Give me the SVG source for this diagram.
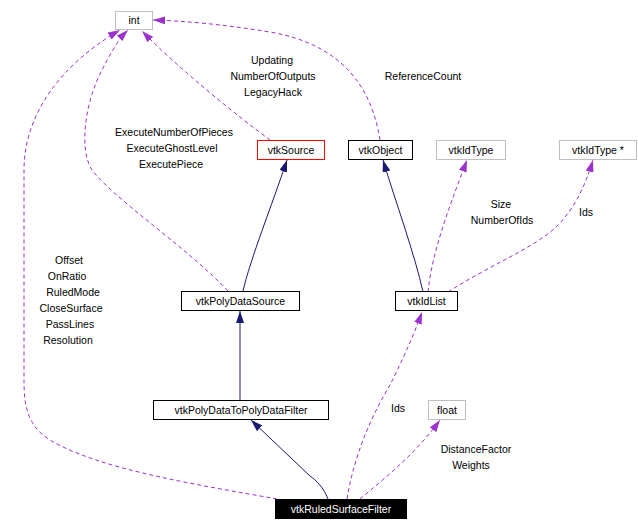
<svg xmlns="http://www.w3.org/2000/svg" width="638" height="530" viewBox="0 0 638 530">
<style>
  text { font-family: "Liberation Sans", Arial, sans-serif; font-size: 10.5px; fill: #000; text-anchor: middle; }
  .node rect { fill: #fff; stroke: #000; stroke-width: 1; }
  .gray rect { stroke: #bfbfbf; }
  .red rect { stroke: #ff0000; }
  .black rect { fill: #000; }
  .black text { fill: #fff; }
  .use { fill: none; stroke: #9a32cd; stroke-width: 1; stroke-dasharray: 4,3; marker-end: url(#ap); }
  .inh { fill: none; stroke: #191970; stroke-width: 1; marker-end: url(#an); }
</style>
<defs>
  <marker id="ap" viewBox="0 0 12 8" refX="12" refY="4" markerWidth="12" markerHeight="8" markerUnits="userSpaceOnUse" orient="auto">
    <path d="M0,0 L12,4 L0,8 z" fill="#9a32cd" stroke="none"/>
  </marker>
  <marker id="an" viewBox="0 0 12 8" refX="12" refY="4" markerWidth="12" markerHeight="8" markerUnits="userSpaceOnUse" orient="auto">
    <path d="M0,0 L12,4 L0,8 z" fill="#191970" stroke="none"/>
  </marker>
</defs>
<rect width="638" height="530" fill="#fff"/>
<g id="edges">
  <path class="use" d="M270,140 C240,118 180,70 142,31"/>
  <path class="use" d="M380,140 C372,90 345,45 270,32 C220,24 185,21 153,20"/>
  <path class="use" d="M228,291 C190,250 115,200 92,170 C78,148 86,100 102,70 C110,54 118,40 128,30"/>
  <path class="use" d="M277,499 C200,485 100,470 50,440 C25,425 24,400 24,380 L24,170 C24,115 60,65 120,30"/>
  <path class="use" d="M428,292 C432,250 452,200 467,160"/>
  <path class="use" d="M448,292 C490,265 530,250 555,228 C572,212 584,190 593,160"/>
  <path class="use" d="M347,499 C355,450 375,410 390,385 C400,365 412,340 422,312"/>
  <path class="use" d="M360,499 C380,482 415,455 440,420"/>
  <path class="inh" d="M423,292 C415,255 395,200 383,160"/>
  <path class="inh" d="M243,291 C250,260 272,205 287,160"/>
  <path class="inh" d="M240,400 L240,311"/>
  <path class="inh" d="M328,499 C324,488 316,480 310,476 L251,420"/>
</g>
<g id="labels">
  <text x="272" y="64">Updating</text>
  <text x="273" y="80">NumberOfOutputs</text>
  <text x="273" y="96">LegacyHack</text>
  <text x="423" y="80">ReferenceCount</text>
  <text x="174" y="136">ExecuteNumberOfPieces</text>
  <text x="172" y="152">ExecuteGhostLevel</text>
  <text x="171" y="168">ExecutePiece</text>
  <text x="501" y="208">Size</text>
  <text x="502" y="224">NumberOfIds</text>
  <text x="586" y="216">Ids</text>
  <text x="69" y="264">Offset</text>
  <text x="67" y="280">OnRatio</text>
  <text x="73" y="296">RuledMode</text>
  <text x="71" y="312">CloseSurface</text>
  <text x="70" y="328">PassLines</text>
  <text x="68" y="344">Resolution</text>
  <text x="398" y="412">Ids</text>
  <text x="476" y="453">DistanceFactor</text>
  <text x="471" y="469">Weights</text>
</g>
<g id="int" class="node gray"><rect x="115.5" y="11.5" width="37" height="18"/><text x="134" y="24">int</text></g>
<g id="vtkSource" class="node red"><rect x="257.5" y="140.5" width="67" height="19"/><text x="291" y="153.5">vtkSource</text></g>
<g id="vtkObject" class="node"><rect x="348.5" y="140.5" width="64" height="19"/><text x="380.5" y="153.5">vtkObject</text></g>
<g id="vtkIdType" class="node gray"><rect x="436.5" y="140.5" width="69" height="19"/><text x="471" y="153.5">vtkIdType</text></g>
<g id="vtkIdTypePtr" class="node gray"><rect x="559.5" y="140.5" width="77" height="19"/><text x="598" y="153.5">vtkIdType *</text></g>
<g id="vtkPolyDataSource" class="node"><rect x="181.5" y="291.5" width="118" height="19"/><text x="240.5" y="304.5">vtkPolyDataSource</text></g>
<g id="vtkIdList" class="node"><rect x="395.5" y="291.5" width="62" height="19"/><text x="426.5" y="304.5">vtkIdList</text></g>
<g id="vtkPolyDataToPolyDataFilter" class="node"><rect x="153.5" y="400.5" width="175" height="19"/><text x="241" y="413.5">vtkPolyDataToPolyDataFilter</text></g>
<g id="float" class="node gray"><rect x="428.5" y="400.5" width="37" height="19"/><text x="447" y="413.5">float</text></g>
<g id="vtkRuledSurfaceFilter" class="node black"><rect x="275.5" y="499.5" width="131" height="19"/><text x="341" y="512.5">vtkRuledSurfaceFilter</text></g>
</svg>
